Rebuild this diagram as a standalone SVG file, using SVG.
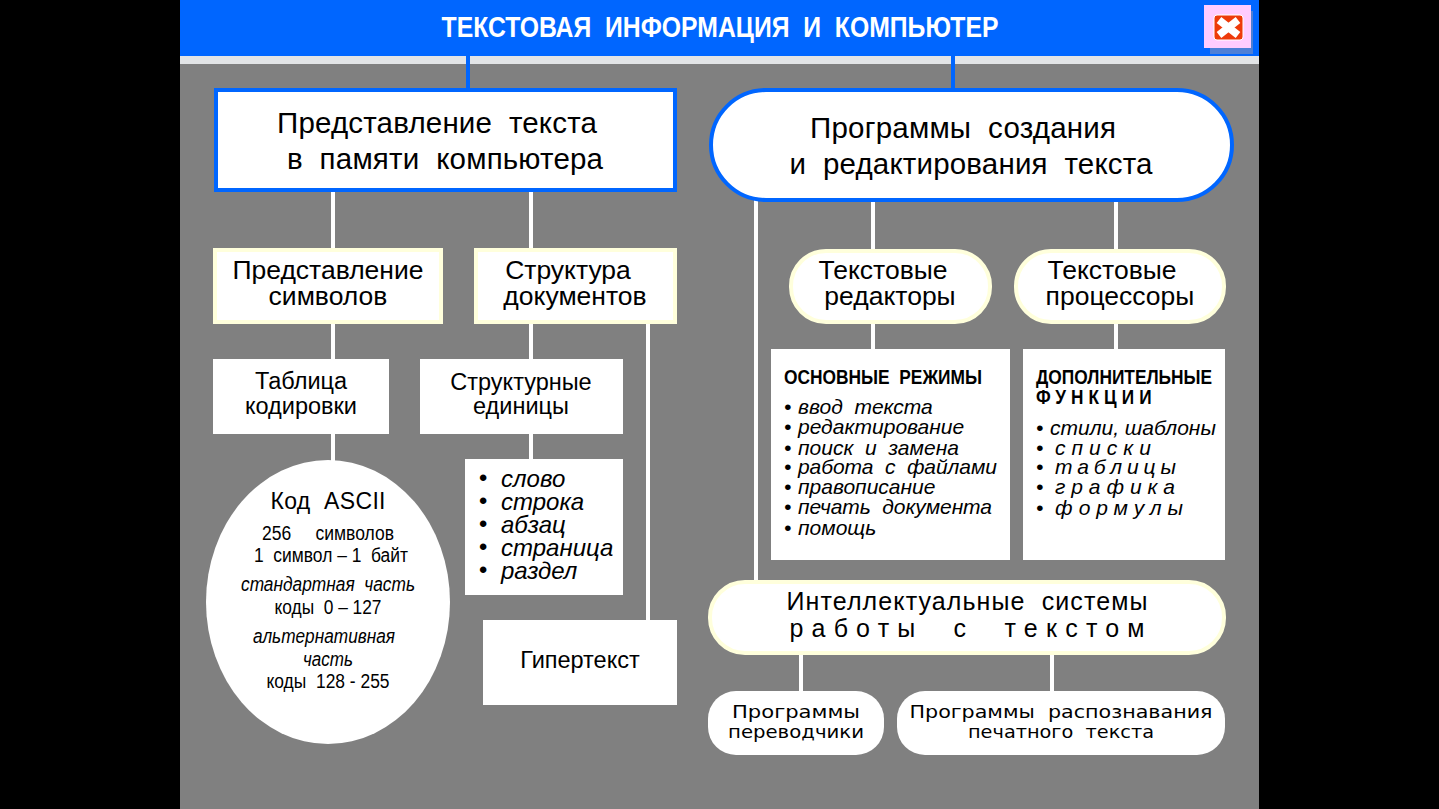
<svg xmlns="http://www.w3.org/2000/svg" width="1439" height="809" viewBox="0 0 1439 809">
<style>
text{font-family:"Liberation Sans",Arial,sans-serif;fill:#000;text-anchor:middle;white-space:pre}
.l{text-anchor:start}
.i{font-style:italic}
.c{stroke:#fff;stroke-width:4;fill:none}
.b{stroke:#0066ff;stroke-width:4;fill:#fff}
.y{fill:#fff;stroke:#ffffdc;stroke-width:4}
.w{fill:#fff}
.t26{font-size:29.5px}
.t24{font-size:26.5px}
.t22{font-size:23.5px}
.s{font-size:19.5px}
.it{font-size:21px;font-style:italic}
.h{font-size:21px;font-weight:bold}
.g{font-family:"DejaVu Sans",sans-serif;font-size:18px}
</style>
<rect width="1439" height="809" fill="#000"/>
<rect x="180" y="0" width="1079" height="809" fill="#808080"/>
<rect x="180" y="55" width="1079" height="9" fill="#e2e4e6"/>
<rect x="180" y="0" width="1079" height="56" fill="#0066ff"/>
<g id="title"><text x="720" y="37" font-size="29" font-weight="bold" style="fill:#fff" textLength="557" lengthAdjust="spacingAndGlyphs">ТЕКСТОВАЯ  ИНФОРМАЦИЯ  И  КОМПЬЮТЕР</text></g>
<g id="close">
<rect x="1210" y="11" width="43" height="43" fill="#4d7fd6"/>
<rect x="1204" y="5" width="47" height="43" fill="#ffccff"/>
<rect x="1214" y="15" width="29" height="25" rx="3" fill="#ee3a0a" stroke="#fff" stroke-width="1"/>
<path d="M1219 20L1238 35M1238 20L1219 35" stroke="#fff" stroke-width="7.5"/>
</g>
<g id="connectors">
<path class="c" style="stroke:#0066ff" d="M468 56V90M953 56V90"/>
<path class="c" d="M333 190V250M531 190V250M333 322V360M531 322V360M333 433V462M531 433V460M648 322V621M756 200V582M873 200V250M1116 200V250M873 322V350M1116 322V350"/>
<path class="c" d="M801 654V692M1052 654V692"/>
</g>
<g id="n1"><rect class="b" x="216" y="90" width="459" height="100"/>
<text class="t26" x="437" y="133" textLength="320">Представление  текста</text>
<text class="t26" x="445" y="169" textLength="316">в  памяти  компьютера</text></g>
<g id="n2"><rect class="b" x="711" y="90" width="521" height="110" rx="55"/>
<text class="t26" x="963" y="138" textLength="306">Программы  создания</text>
<text class="t26" x="971" y="174" textLength="363">и  редактирования  текста</text></g>
<g id="n3"><rect class="y" x="215" y="250" width="226" height="72"/>
<text class="t24" x="328" y="279">Представление</text><text class="t24" x="328" y="305">символов</text></g>
<g id="n4"><rect class="y" x="476" y="250" width="199" height="72"/>
<text class="t24" x="568" y="279">Структура</text><text class="t24" x="575" y="305">документов</text></g>
<g id="n5"><rect class="y" x="791" y="251" width="199" height="71" rx="35"/>
<text class="t24" x="883" y="279">Текстовые</text><text class="t24" x="890" y="305">редакторы</text></g>
<g id="n6"><rect class="y" x="1016" y="251" width="208" height="71" rx="35"/>
<text class="t24" x="1112" y="279">Текстовые</text><text class="t24" x="1120" y="305">процессоры</text></g>
<g id="n7"><rect class="w" x="213" y="359" width="176" height="75"/>
<text class="t22" x="301" y="389">Таблица</text><text class="t22" x="301" y="414">кодировки</text></g>
<g id="n8"><rect class="w" x="420" y="359" width="203" height="75"/>
<text class="t22" x="521" y="390">Структурные</text><text class="t22" x="521" y="414">единицы</text></g>
<g id="n9"><ellipse class="w" cx="328" cy="602" rx="122" ry="142"/>
<text x="328" y="509" font-size="23" textLength="115">Код  ASCII</text>
<text class="s" x="328" y="540" textLength="132" lengthAdjust="spacingAndGlyphs">256     символов</text>
<text class="s" x="331" y="562" textLength="154" lengthAdjust="spacingAndGlyphs">1  символ – 1  байт</text>
<text class="s i" x="328" y="591" textLength="174" lengthAdjust="spacingAndGlyphs">стандартная  часть</text>
<text class="s" x="328" y="614" textLength="107" lengthAdjust="spacingAndGlyphs">коды  0 – 127</text>
<text class="s i" x="324" y="643" textLength="142" lengthAdjust="spacingAndGlyphs">альтернативная</text>
<text class="s i" x="328" y="666" textLength="50" lengthAdjust="spacingAndGlyphs">часть</text>
<text class="s" x="328" y="688" textLength="123" lengthAdjust="spacingAndGlyphs">коды  128 - 255</text></g>
<g id="n10"><rect class="w" x="465" y="459" width="158" height="136"/>
<g font-size="24" font-style="italic">
<text x="483" y="486">•</text><text class="l" x="501" y="487">слово</text>
<text x="483" y="509">•</text><text class="l" x="501" y="510">строка</text>
<text x="483" y="532">•</text><text class="l" x="501" y="533">абзац</text>
<text x="483" y="555">•</text><text class="l" x="501" y="556">страница</text>
<text x="483" y="578">•</text><text class="l" x="501" y="579">раздел</text></g></g>
<g id="n11"><rect class="w" x="483" y="620" width="194" height="85"/>
<text class="t22" x="580" y="668">Гипертекст</text></g>
<g id="n12"><rect class="w" x="771" y="349" width="239" height="211"/>
<text class="l h" x="784" y="384" textLength="198" lengthAdjust="spacingAndGlyphs">ОСНОВНЫЕ  РЕЖИМЫ</text>
<text class="it l" x="784" y="414">• <tspan x="798">ввод  текста</tspan></text>
<text class="it l" x="784" y="434">• <tspan x="798">редактирование</tspan></text>
<text class="it l" x="784" y="455">• <tspan x="798">поиск  и  замена</tspan></text>
<text class="it l" x="784" y="474">• <tspan x="798" textLength="199">работа  с  файлами</tspan></text>
<text class="it l" x="784" y="494">• <tspan x="798">правописание</tspan></text>
<text class="it l" x="784" y="514">• <tspan x="798" textLength="194">печать  документа</tspan></text>
<text class="it l" x="784" y="535">• <tspan x="798">помощь</tspan></text></g>
<g id="n13"><rect class="w" x="1023" y="349" width="202" height="211"/>
<text class="l h" x="1036" y="384" textLength="176" lengthAdjust="spacingAndGlyphs">ДОПОЛНИТЕЛЬНЫЕ</text>
<text class="l h" transform="translate(1036,404) scale(.82,1)" x="0" y="0" textLength="141">ФУНКЦИИ</text>
<text class="it l" x="1036" y="435">• <tspan x="1050">стили, шаблоны</tspan></text>
<text class="it l" x="1036" y="455">• <tspan x="1055" textLength="96">списки</tspan></text>
<text class="it l" x="1036" y="474">• <tspan x="1055" textLength="121">таблицы</tspan></text>
<text class="it l" x="1036" y="494">• <tspan x="1055" textLength="120">графика</tspan></text>
<text class="it l" x="1036" y="515">• <tspan x="1055" textLength="128">формулы</tspan></text></g>
<g id="n14"><rect class="y" x="710" y="582" width="514" height="71" rx="35"/>
<text x="967" y="610" font-size="25" textLength="361">Интеллектуальные  системы</text>
<text x="967" y="637" font-size="25" textLength="355">работы  с  текстом</text></g>
<g id="n15"><rect class="w" x="708" y="691" width="176" height="64" rx="28"/>
<text class="g" x="796" y="718" textLength="128" lengthAdjust="spacingAndGlyphs">Программы</text><text class="g" x="796" y="738" textLength="136" lengthAdjust="spacingAndGlyphs">переводчики</text></g>
<g id="n16"><rect class="w" x="897" y="691" width="328" height="64" rx="28"/>
<text class="g" x="1061" y="718" textLength="303" lengthAdjust="spacingAndGlyphs">Программы  распознавания</text><text class="g" x="1061" y="738" textLength="186" lengthAdjust="spacingAndGlyphs">печатного  текста</text></g>
</svg>
